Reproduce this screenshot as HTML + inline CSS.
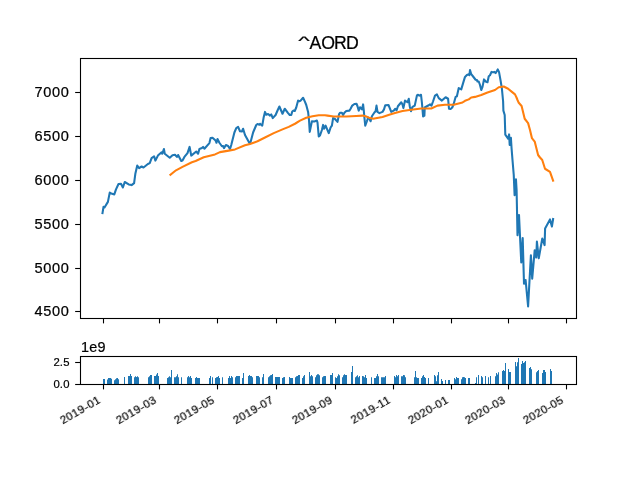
<!DOCTYPE html>
<html><head><meta charset="utf-8"><title>^AORD</title>
<style>html,body{margin:0;padding:0;background:#fff;}body{width:640px;height:480px;overflow:hidden;}svg{display:block;}text{font-family:"Liberation Sans",sans-serif;fill:#000;stroke:#000;stroke-width:0.22px;will-change:transform;}</style>
</head><body>
<svg width="640" height="480" viewBox="0 0 640 480">
<rect x="0" y="0" width="640" height="480" fill="#ffffff"/>
<defs><clipPath id="c1"><rect x="80.5" y="58.5" width="496.0" height="260.0"/></clipPath></defs>
<g clip-path="url(#c1)" fill="none" stroke-width="2.08" stroke-linejoin="round" stroke-linecap="square">
<polyline stroke="#1f77b4" points="102.5,213.1 103.5,206.9 104.5,207.5 107.9,201.9 109.75,192.6 111.3,193.6 114.3,194.4 116,189.4 118.5,184 121,183.75 122.9,187.5 124.75,182 128.75,184.4 131.6,185.1 134.1,183.1 135.4,173.4 137.25,165.6 139.1,168.1 141.6,166.5 143.5,167.5 147.9,164 149.75,163.1 151.6,158.1 154.1,156.25 155.4,160.6 157.9,155.6 161.6,152.25 162.25,153.75 163.9,149 164.75,153.75 169.75,157.75 172.5,155.25 175,154.75 176.9,156.9 178.1,155 181.25,161 182.5,160.6 184.4,156.9 187.5,153.1 189.6,146.9 191.25,155.6 196.25,151.5 198.1,153.75 199.4,149 201.9,148.1 203.1,146.9 204.4,148.75 209.4,143.1 210.6,138.1 212.5,137.75 215.6,140.6 216.5,142.75 217.5,139 219.4,142.75 221.9,146.25 223.1,146 224,148.1 225.9,145 228.1,146 230,149 231.25,145 234.4,132.5 236.25,128.1 238.1,126.9 240,131.25 241.9,131.5 243.1,128.75 245,135 249.4,143.1 250.6,141.9 253.1,132.5 256.25,125 257.5,124 259.4,124.75 260,123.75 262.25,125.6 263.75,116.9 265,111.9 266.25,114.75 268.1,114 270,115.6 271.25,114.4 272.75,118.1 275.6,115 277.75,110 279.4,106.5 282.5,113.75 284.75,108.75 288.1,113.1 289.75,115 291.25,115 292.25,111.5 293.5,110.6 294.75,111 296.25,107.5 298.1,100.6 299.4,101.25 300.6,100.6 303.1,97.75 305,101.9 306.25,105 308.1,111.9 309,120 309.75,131.9 311.9,121.25 314.4,121.5 316.9,120.6 317.5,122.5 318.75,136.5 320,135.5 321.9,130 323.1,124.9 324.05,128.75 325.6,125.6 328.75,133.1 330.6,127.5 331.9,125.6 333.1,118.1 334.75,118.75 337.5,121.9 339,114.4 340,112.75 341.9,112.75 343.1,115 344.4,112.75 346.25,111 349.4,110.6 350.6,108.75 352.25,105.6 354.4,104 356.5,103.75 357.5,106.25 358.75,110.6 360,107.25 361.9,109.4 363.1,104.4 363.75,110 364.4,117.5 365.25,125.6 366.9,121.25 368.1,117.5 369.4,118.75 370.6,121.25 371.9,116.25 374.4,112.5 375.6,111.25 376.5,105.6 377.5,111.9 379.4,113.1 382.5,111.9 384,109.4 385.25,105.25 388.5,105 389.75,108.1 391.25,111.9 393.75,110.6 395.3,108.75 396.6,110.3 397.9,106.25 401.25,102.25 402.5,104.4 403.4,108.1 405,100.6 407.5,102.25 408.75,98.75 409.75,106.25 411,111.25 412.5,106.9 414.75,105.6 416.9,95.6 417.75,94.75 419.4,95.6 421,94.75 421.9,102.5 423.1,116.5 424.4,115.6 424.75,107.5 426.9,106.25 428.75,105.25 430,104.4 431.5,105.6 433.1,101.25 435,95.6 436.9,94.4 438.75,98.1 441.9,100.6 445.6,97.25 448.1,98.75 449,108.75 450.6,109 452.25,107.5 453.75,103.75 455.6,96.9 456.9,96.25 458.75,88.1 461.25,89.4 463.1,83.1 465,76.9 466.9,75 468.3,74.4 469.4,75.1 470,70 471.25,74.2 473.1,76.5 475.6,79.75 476.9,80 477.5,81.5 478.75,81.5 480,85 481.25,90 482.5,86.9 484,79.4 485.6,81.5 487.5,82.25 488.75,76.25 490,75.25 491.5,71.9 493.1,72.25 494.4,71.9 495.6,73.1 496.9,71 497.75,69.4 499,71.9 500.6,80.6 501.9,88.75 503.1,101.25 503.4,110.6 504.7,115 505.3,134.7 508.1,138.75 509.1,134.4 509.7,145 510.9,137.8 511.6,148.75 512.5,160 513.75,175 514.6,195.2 515.95,179.4 516.6,190 517.5,235.3 519.0,215 521.25,262.5 522.7,238 524,283.75 525.6,280 528.1,306.5 530.9,255.3 532.2,278.75 534.7,250.2 536.25,257.5 536.9,241.6 538.75,258.3 542.3,238.5 543.2,241 544.6,245.1 545.1,228.4 550,219.4 551.9,226.6 553.1,219"/>
<polyline stroke="#ff7f0e" points="170.4,174.75 176,170.3 182.5,166.9 191.9,162.25 195.6,161 203.75,157.25 215,154.4 220,152.1 228.75,150.6 235,149.4 245,145.3 250,144 257.5,141.25 265,137.5 273.75,133.1 282.5,129.4 288.75,126.9 295,123.75 300,120.6 306.25,117.75 312.5,116.25 318.75,115.25 325,115.25 327.5,115.6 333.75,116.5 346.25,116.5 356.25,116 362.5,115.6 365.6,116.25 370,118.1 373.1,118.75 382.5,116.9 390,114.4 395,113 402.5,111 411.25,109.75 421.25,108.5 431.25,108.5 437.5,105.6 445,104.75 453.75,104.75 462.5,102.5 465,100.8 468.75,99.4 471.25,97.5 475,96.9 481.25,95 487.5,92.5 495,90 498.75,87.25 503.75,86.5 508.1,88.75 511.9,91.9 515,94.4 516.5,97.5 517.5,100 518.75,102.8 521.6,106 524.7,118.75 528.1,123.1 530,130 531.9,138.1 534.7,141.6 538.1,155 540,157.5 542.25,160 545,168.75 550,171.9 553.1,180.6"/>
</g>
<g fill="#1f77b4">
<path d="M103,384.2V379.1H104V379.1H105V384.2Z"/>
<path d="M107,384.2V379.4H108V378.1H109V378.0H110V378.0H111V378.8H112V384.2Z"/>
<path d="M114,384.2V380.2H115V379.3H116V378.2H117V378.1H118V379.2H119V384.2Z"/>
<path d="M124,384.2V376.9H125V384.2Z"/>
<path d="M128,384.2V376.1H129V376.1H130V374.1H131V376.1H132V384.2Z"/>
<path d="M134,384.2V377.2H135V376.2H136V377.0H137V376.2H138V377.2H139V384.2Z"/>
<path d="M148,384.2V377.2H149V376.25H150V375.1H151V375.1H152V384.2Z"/>
<path d="M154,384.2V376.1H155V376.1H156V374.4H157V373.1H158V376.1H159V384.2Z"/>
<path d="M167,384.2V378.1H168V377.2H169V376.25H170V377.2H171V370.0H172V384.2Z"/>
<path d="M174,384.2V377.2H175V377.2H176V376.25H177V374.25H178V377.2H179V384.2Z"/>
<path d="M181,384.2V377.2H182V384.2Z"/>
<path d="M187,384.2V377.2H188V376.1H189V377.2H190V376.1H191V378.1H192V384.2Z"/>
<path d="M195,384.2V378.1H196V377.0H197V378.1H198V378.1H199V378.1H200V384.2Z"/>
<path d="M209,384.2V378.1H210V376.1H211V384.2Z"/>
<path d="M212,384.2V377.2H213V384.2Z"/>
<path d="M215,384.2V378.1H216V377.2H217V376.9H218V376.1H219V378.1H220V384.2Z"/>
<path d="M222,384.2V377.2H223V384.2Z"/>
<path d="M228,384.2V378.1H229V376.1H230V378.1H231V376.1H232V377.2H233V384.2Z"/>
<path d="M235,384.2V377.2H236V376.1H237V376.1H238V376.1H239V376.1H240V384.2Z"/>
<path d="M242,384.2V378.1H243V373.0H244V384.2Z"/>
<path d="M248,384.2V376.1H249V375.1H250V376.1H251V376.1H252V377.2H253V384.2Z"/>
<path d="M256,384.2V376.1H257V376.1H258V376.1H259V377.2H260V384.2Z"/>
<path d="M262,384.2V377.2H263V374.06H264V384.2Z"/>
<path d="M268,384.2V377.2H269V376.25H270V375.3H271V375.1H272V374.06H273V384.2Z"/>
<path d="M275,384.2V377.0H276V377.0H277V377.0H278V377.0H279V377.0H280V384.2Z"/>
<path d="M282,384.2V378.1H283V377.2H284V377.1H285V384.2Z"/>
<path d="M289,384.2V377.0H290V378.1H291V378.1H292V378.1H293V384.2Z"/>
<path d="M295,384.2V377.2H296V376.25H297V376.1H298V375.1H299V375.1H300V384.2Z"/>
<path d="M302,384.2V378.1H303V376.25H304V375.0H305V384.2Z"/>
<path d="M309,384.2V372.0H310V376.25H311V375.0H312V376.25H313V384.2Z"/>
<path d="M315,384.2V377.2H316V375.3H317V374.25H318V374.25H319V375.3H320V384.2Z"/>
<path d="M322,384.2V377.2H323V376.25H324V376.1H325V376.1H326V384.2Z"/>
<path d="M330,384.2V375.1H331V375.1H332V373.0H333V384.2Z"/>
<path d="M335,384.2V377.2H336V378.1H337V376.25H338V374.25H339V375.3H340V384.2Z"/>
<path d="M342,384.2V377.2H343V375.3H344V374.25H345V375.1H346V375.1H347V384.2Z"/>
<path d="M351,384.2V372.0H352V365.9H353V384.2Z"/>
<path d="M355,384.2V377.2H356V376.25H357V375.2H358V377.2H359V376.1H360V384.2Z"/>
<path d="M362,384.2V376.1H363V376.25H364V377.2H365V375.0H366V378.1H367V384.2Z"/>
<path d="M371,384.2V377.2H372V384.2Z"/>
<path d="M374,384.2V378.1H375V378.1H376V376.25H377V374.06H378V376.25H379V384.2Z"/>
<path d="M381,384.2V377.2H382V377.2H383V377.2H384V377.2H385V376.1H386V384.2Z"/>
<path d="M394,384.2V376.1H395V377.2H396V375.1H397V376.25H398V375.1H399V384.2Z"/>
<path d="M401,384.2V376.25H402V376.25H403V375.1H404V375.3H405V377.2H406V384.2Z"/>
<path d="M414,384.2V377.2H415V370.9H416V377.2H417V378.1H418V378.1H419V384.2Z"/>
<path d="M421,384.2V378.1H422V376.25H423V375.1H424V377.0H425V378.1H426V384.2Z"/>
<path d="M428,384.2V378.1H429V384.2Z"/>
<path d="M434,384.2V375.0H435V376.25H436V381.25H437V375.3H438V372.0H439V384.2Z"/>
<path d="M441,384.2V379.06H442V381.1H443V384.2Z"/>
<path d="M445,384.2V380.0H446V384.2Z"/>
<path d="M448,384.2V380.0H449V380.0H450V384.2Z"/>
<path d="M454,384.2V378.1H455V379.25H456V377.0H457V378.1H458V378.1H459V384.2Z"/>
<path d="M461,384.2V379.25H462V377.2H463V377.0H464V377.2H465V378.1H466V384.2Z"/>
<path d="M468,384.2V378.1H469V378.1H470V384.2Z"/>
<path d="M475,384.2V383.1H476V377.2H477V384.2Z"/>
<path d="M478,384.2V375.0H479V384.2Z"/>
<path d="M481,384.2V376.1H482V377.2H483V384.2Z"/>
<path d="M485,384.2V376.1H486V384.2Z"/>
<path d="M488,384.2V377.2H489V384.2Z"/>
<path d="M490,384.2V376.1H491V384.2Z"/>
<path d="M495,384.2V376.25H496V373.1H497V374.4H498V372.2H499V384.2Z"/>
<path d="M502,384.2V371.1H503V370.0H504V371.1H505V363.1H506V384.2Z"/>
<path d="M508,384.2V369.06H509V372.0H510V372.0H511V384.2Z"/>
<path d="M515,384.2V362.0H516V366.25H517V362.2H518V358.1H519V384.2Z"/>
<path d="M521,384.2V364.06H522V360.9H523V363.1H524V362.2H525V361.1H526V384.2Z"/>
<path d="M529,384.2V368.1H530V367.0H531V369.25H532V384.2Z"/>
<path d="M536,384.2V372.2H537V371.1H538V370.1H539V384.2Z"/>
<path d="M542,384.2V373.1H543V370.1H544V370.1H545V372.0H546V384.2Z"/>
<path d="M550,384.2V369.06H551V371.1H552V384.2Z"/>
</g>
<g stroke="#000" stroke-width="1.1" fill="none">
<line x1="103.5" y1="318.5" x2="103.5" y2="323.4"/>
<line x1="103.5" y1="384.5" x2="103.5" y2="389.4"/>
<line x1="159.5" y1="318.5" x2="159.5" y2="323.4"/>
<line x1="159.5" y1="384.5" x2="159.5" y2="389.4"/>
<line x1="217.5" y1="318.5" x2="217.5" y2="323.4"/>
<line x1="217.5" y1="384.5" x2="217.5" y2="389.4"/>
<line x1="276.5" y1="318.5" x2="276.5" y2="323.4"/>
<line x1="276.5" y1="384.5" x2="276.5" y2="389.4"/>
<line x1="335.5" y1="318.5" x2="335.5" y2="323.4"/>
<line x1="335.5" y1="384.5" x2="335.5" y2="389.4"/>
<line x1="393.5" y1="318.5" x2="393.5" y2="323.4"/>
<line x1="393.5" y1="384.5" x2="393.5" y2="389.4"/>
<line x1="451.5" y1="318.5" x2="451.5" y2="323.4"/>
<line x1="451.5" y1="384.5" x2="451.5" y2="389.4"/>
<line x1="508.5" y1="318.5" x2="508.5" y2="323.4"/>
<line x1="508.5" y1="384.5" x2="508.5" y2="389.4"/>
<line x1="566.5" y1="318.5" x2="566.5" y2="323.4"/>
<line x1="566.5" y1="384.5" x2="566.5" y2="389.4"/>
<line x1="75.15" y1="92.5" x2="80.5" y2="92.5"/>
<line x1="75.15" y1="136.5" x2="80.5" y2="136.5"/>
<line x1="75.15" y1="180.5" x2="80.5" y2="180.5"/>
<line x1="75.15" y1="224.5" x2="80.5" y2="224.5"/>
<line x1="75.15" y1="268.5" x2="80.5" y2="268.5"/>
<line x1="75.15" y1="311.5" x2="80.5" y2="311.5"/>
<line x1="75.15" y1="384.5" x2="80.5" y2="384.5"/>
<line x1="75.15" y1="362.5" x2="80.5" y2="362.5"/>
<rect x="80.5" y="58.5" width="496.0" height="260.0"/>
<rect x="80.5" y="356.5" width="496.0" height="28.00"/>
</g>
<text transform="translate(298.15,44.9) scale(1.43,0.72)" font-size="17.2">^</text>
<text x="309.5 321.2 334.0 346.1" y="48.8" font-size="17.7">AORD</text>
<text transform="translate(69.40,96.90) scale(1.04,1)" font-size="14" text-anchor="end" letter-spacing="0.63">7000</text>
<text transform="translate(69.40,140.90) scale(1.04,1)" font-size="14" text-anchor="end" letter-spacing="0.63">6500</text>
<text transform="translate(69.40,184.90) scale(1.04,1)" font-size="14" text-anchor="end" letter-spacing="0.63">6000</text>
<text transform="translate(69.40,228.90) scale(1.04,1)" font-size="14" text-anchor="end" letter-spacing="0.63">5500</text>
<text transform="translate(69.40,272.90) scale(1.04,1)" font-size="14" text-anchor="end" letter-spacing="0.63">5000</text>
<text transform="translate(69.40,315.90) scale(1.04,1)" font-size="14" text-anchor="end" letter-spacing="0.63">4500</text>
<text transform="translate(69.70,388.00)" font-size="11.3" text-anchor="end" letter-spacing="0.2">0.0</text>
<text transform="translate(69.70,366.00)" font-size="11.3" text-anchor="end" letter-spacing="0.2">2.5</text>
<text transform="translate(80.90,351.60) scale(1.03,1)" font-size="14" letter-spacing="0.3">1e9</text>
<text transform="translate(101.50,402.20) rotate(-30)" font-size="11.3" text-anchor="end" letter-spacing="0.45">2019-01</text>
<text transform="translate(157.50,402.20) rotate(-30)" font-size="11.3" text-anchor="end" letter-spacing="0.45">2019-03</text>
<text transform="translate(215.50,402.20) rotate(-30)" font-size="11.3" text-anchor="end" letter-spacing="0.45">2019-05</text>
<text transform="translate(274.50,402.20) rotate(-30)" font-size="11.3" text-anchor="end" letter-spacing="0.45">2019-07</text>
<text transform="translate(333.50,402.20) rotate(-30)" font-size="11.3" text-anchor="end" letter-spacing="0.45">2019-09</text>
<text transform="translate(391.50,402.20) rotate(-30)" font-size="11.3" text-anchor="end" letter-spacing="0.45">2019-11</text>
<text transform="translate(449.50,402.20) rotate(-30)" font-size="11.3" text-anchor="end" letter-spacing="0.45">2020-01</text>
<text transform="translate(506.50,402.20) rotate(-30)" font-size="11.3" text-anchor="end" letter-spacing="0.45">2020-03</text>
<text transform="translate(564.50,402.20) rotate(-30)" font-size="11.3" text-anchor="end" letter-spacing="0.45">2020-05</text>
</svg></body></html>
